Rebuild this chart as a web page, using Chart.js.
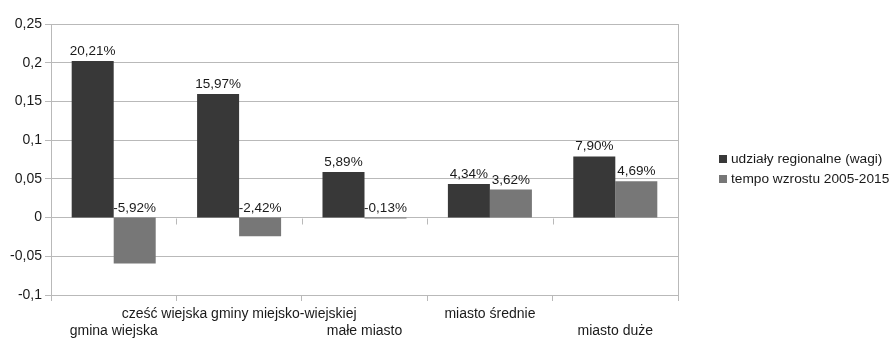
<!DOCTYPE html>
<html>
<head>
<meta charset="utf-8">
<script src="https://cdn.jsdelivr.net/npm/chart.js@4/dist/chart.umd.min.js"></script>
<style>
html,body{margin:0;padding:0;background:#fff;}
#wrap{width:892px;height:338px;position:relative;}
</style>
</head>
<body>
<div id="wrap"><canvas id="c" width="892" height="338"></canvas></div>
<script>
const categories = ['gmina wiejska', 'cześć wiejska gminy miejsko-wiejskiej', 'małe miasto', 'miasto średnie', 'miasto duże'];
const seriesNames = ['udziały regionalne (wagi)', 'tempo wzrostu 2005-2015'];
const udzialy = [0.2021, 0.1597, 0.0589, 0.0434, 0.0790];
const tempo = [-0.0592, -0.0242, -0.0013, 0.0362, 0.0469];
const yMin = -0.1, yMax = 0.25, yStep = 0.05;

const FONT = "'Liberation Sans', Arial, sans-serif";
const GRID = '#b9b9b9';
const TEXT = '#1a1a1a';
const colors = ['#383838', '#777777'];

function fmtPct(v) { return (v * 100).toFixed(2).replace('.', ',') + '%'; }

const framePlugin = {
  id: 'frame',
  beforeDatasetsDraw(chart) {
    const ctx = chart.ctx, a = chart.chartArea, x = chart.scales.x, y = chart.scales.y;
    ctx.save();
    ctx.strokeStyle = GRID; ctx.lineWidth = 1;
    ctx.beginPath(); ctx.moveTo(Math.round(a.right) + 0.5, a.top); ctx.lineTo(Math.round(a.right) + 0.5, a.bottom); ctx.stroke();
    const y0 = Math.round(y.getPixelForValue(0)) + 0.5;
    for (let i = 0; i < categories.length - 1; i++) {
      const bx = Math.round((x.getPixelForValue(i) + x.getPixelForValue(i + 1)) / 2) + 0.5;
      ctx.beginPath(); ctx.moveTo(bx, y0); ctx.lineTo(bx, y0 + 6); ctx.stroke();
    }
    ctx.restore();
  },
  afterDatasetsDraw(chart) {
    const ctx = chart.ctx;
    ctx.save();
    ctx.font = '13.5px ' + FONT;
    ctx.fillStyle = TEXT;
    ctx.textAlign = 'center';
    ctx.textBaseline = 'alphabetic';
    chart.data.datasets.forEach((ds, di) => {
      const meta = chart.getDatasetMeta(di);
      meta.data.forEach((el, i) => {
        const top = Math.min(el.y, el.base);
        ctx.fillText(fmtPct(ds.data[i]), el.x, top - 6);
      });
    });
    const a = chart.chartArea;
    const lx = a.right + 41;
    const cy = chart.height / 2;
    ctx.font = '13.7px ' + FONT;
    chart.data.datasets.forEach((ds, di) => {
      const yy = cy - 10 + di * 20;
      ctx.fillStyle = ds.backgroundColor;
      ctx.fillRect(lx, yy - 4, 8, 8);
      ctx.fillStyle = TEXT;
      ctx.textAlign = 'left';
      ctx.textBaseline = 'middle';
      ctx.fillText(ds.label, lx + 12, yy);
    });
    ctx.restore();
  }
};

new Chart(document.getElementById('c'), {
  type: 'bar',
  data: {
    labels: categories,
    datasets: [
      { label: seriesNames[0], data: udzialy, backgroundColor: colors[0], categoryPercentage: 0.67, barPercentage: 1.0 },
      { label: seriesNames[1], data: tempo, backgroundColor: colors[1], categoryPercentage: 0.67, barPercentage: 1.0 }
    ]
  },
  options: {
    responsive: false,
    animation: false,
    devicePixelRatio: 1,
    layout: { padding: { left: 0, right: 214, top: 24, bottom: 0 } },
    plugins: { legend: { display: false }, tooltip: { enabled: false } },
    scales: {
      x: {
        offset: true,
        grid: { offset: true, drawOnChartArea: false, drawTicks: true, tickLength: 6, color: GRID },
        border: { display: false },
        ticks: {
          autoSkip: false, maxRotation: 0, minRotation: 0, padding: 5,
          color: TEXT, font: { family: FONT, size: 14, lineHeight: 1.2 },
          callback: function (v, i) { const l = categories[i]; return i % 2 === 0 ? ['', l] : [l, '']; }
        },
        afterFit(s) { s.height = 43; s.paddingLeft = 0; s.paddingRight = 0; }
      },
      y: {
        min: yMin, max: yMax,
        grid: { color: GRID, tickLength: 6 },
        border: { color: GRID },
        ticks: {
          stepSize: yStep, padding: 3, color: TEXT, font: { family: FONT, size: 14 },
          callback: function (v) { return String(Math.round(v * 100) / 100).replace('.', ','); }
        },
        afterFit(s) { s.width = 51; s.paddingTop = 0; s.paddingBottom = 0; }
      }
    }
  },
  plugins: [framePlugin]
});
</script>
</body>
</html>
